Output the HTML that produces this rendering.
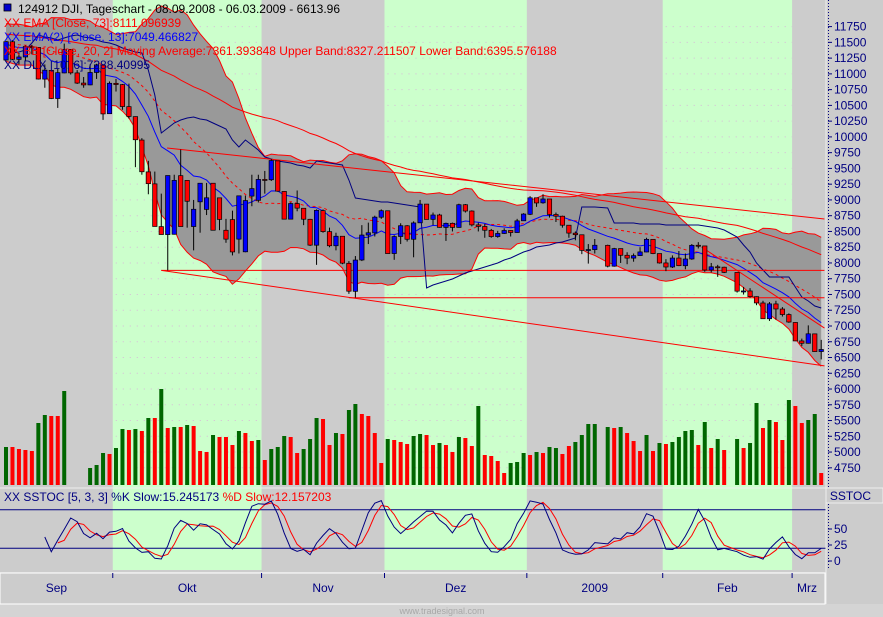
<!DOCTYPE html>
<html><head><meta charset="utf-8"><style>
body{margin:0;background:#d4d4d4;}
svg{display:block;font-family:"Liberation Sans",sans-serif;}
</style></head><body>
<svg id="c" width="883" height="617" viewBox="0 0 883 617" xmlns="http://www.w3.org/2000/svg">
<rect x="0" y="0" width="883" height="617" fill="#d4d4d4"/>
<rect x="0" y="0" width="826" height="572" fill="#cccccc"/>
<rect x="826" y="0" width="57" height="604" fill="#cccccc"/>
<rect x="0" y="573" width="825" height="31" fill="#cccccc" stroke="#ffffff" stroke-width="1"/>
<g id="bands"></g>
<g id="grid"></g>
<g id="overlay"></g>
<g id="candles"></g>
<g id="vol"></g>
<g id="stoch"></g>
<g id="axis"></g>
<line x1="0" y1="488" x2="826" y2="488" stroke="#eeeeee" stroke-width="1"/>
<line x1="826" y1="0" x2="826" y2="604" stroke="#eeeeee" stroke-width="1"/>
<line x1="828.5" y1="0" x2="828.5" y2="487" stroke="#000080" stroke-dasharray="1,2"/>
<line x1="828.5" y1="504" x2="828.5" y2="570" stroke="#000080" stroke-dasharray="1,2"/>
<rect x="826" y="488" width="57" height="15" fill="#cccccc" stroke="#eeeeee"/>
<text x="871" y="500" font-size="12" fill="#000080" text-anchor="end">SSTOC</text>
<text x="442" y="614" font-size="9" fill="#a8a8a8" text-anchor="middle">www.tradesignal.com</text>
<g font-size="12">
<rect x="4" y="4" width="7" height="7" fill="#0000cc" stroke="#000" stroke-width="0.8"/>
<text x="18" y="13" fill="#000">124912  DJI, Tageschart - 08.09.2008 - 06.03.2009 - 6613.96</text>
<text x="4" y="27" fill="#ff0000">XX EMA [Close, 73]:8111.096939</text>
<text x="4" y="41" fill="#0000ff">XX EMA(2) [Close, 13]:7049.466827</text>
<text x="4" y="55" fill="#ff0000">XX BB [Close, 20, 2] Moving Average:7361.393848 Upper Band:8327.211507 Lower Band:6395.576188</text>
<text x="4" y="69" fill="#000080">XX DLX [10, 6]:7288.40995</text>
</g>
<text x="4" y="501" font-size="12"><tspan fill="#000080">XX SSTOC [5, 3, 3] %K Slow:15.245173 </tspan><tspan fill="#ff0000">%D Slow:12.157203</tspan></text>
</svg>
<script>
const history = [11734,11782,11642,11532,11615,11659,11479,11348,11417,11430,11386,11628,11413,11412,11502,11715,11782,11544,11517,11188,11220];
const open = [11220,11510,11230,11268,11433,11420,10917,11056,10609,11015,11388,11015,10854,10825,11022,11139,10368,
10850,10830,10480,10322,9950,9445,9255,8577,8450,8455,9385,9310,8578,8970,8850,9265,9033,8519,8688,8378,8177,9061,8994,
9325,9320,9620,9135,8695,8943,8868,8693,8282,8830,8497,8273,8424,7995,7550,8047,8443,8477,8726,
8828,8150,8420,8590,8376,8637,8934,8692,8761,8564,8629,8564,8924,8824,8604,8579,8518,8419,8468,8515,8483,8669,
8772,9034,8954,9015,8769,8742,8599,8473,8447,8199,8212,null,8280,7949,8228,8122,8077,8117,8174,8375,8149,
8000,7936,8078,7956,8063,8281,8270,7888,7939,7933,null,7850,7552,7556,7465,7365,7115,7350,7269,7181,
7056,6763,6726,6875,6595];
const high = [11520,11535,11330,11450,11460,11420,11150,11060,11080,11480,11390,11060,10950,11150,11160,11140,10880,
10920,10840,10845,10325,9980,9620,9450,9100,8900,9400,9800,9310,9000,9150,9270,9265,9035,8700,8830,8700,9070,9400,9400,
9460,9650,9625,9140,8960,9150,8870,8700,8850,8850,8560,8480,8425,8030,8110,8600,8640,8750,8850,
8830,8440,8630,8600,8660,9000,8935,8800,8780,8640,8640,8940,8935,8835,8640,8620,8540,8510,8550,8520,8700,8790,
9060,9035,9090,9015,8800,8750,8600,8500,8450,8300,8380,null,8290,8240,8230,8170,8150,8250,8400,8380,8150,
8060,8120,8190,8150,8300,8330,8270,8000,7970,7940,null,7850,7620,7600,7470,7400,7380,7400,7300,7200,
7060,6800,7010,6880,6780];
const low = [11210,11220,11150,11200,11310,10910,10780,10600,10460,11010,10990,10840,10780,10820,10920,10270,10380,
10720,10430,10290,9520,9400,9090,8670,8530,7880,8450,9100,8560,8200,8480,8760,8950,8520,8320,8120,8150,8170,8900,8960,
9100,9300,9130,8690,8690,8820,8600,8270,7970,8480,8250,8200,7980,7510,7450,8030,8300,8420,8700,
8150,8050,8300,8340,8090,8640,8690,8600,8560,8350,8500,8560,8800,8580,8500,8400,8400,8400,8460,8420,8480,8670,
8760,8890,8940,8720,8650,8560,8400,8360,8140,7990,8150,null,7930,7940,8000,7980,8020,8110,8170,8140,7990,
7870,7920,7950,7900,8050,8230,7860,7850,7780,7840,null,7530,7500,7450,7330,7190,7080,7100,7150,7050,
6760,6680,6720,6590,6470];
const close = [11511,11231,11268,11434,11421,10918,11059,10609,11019,11388,11016,10854,10825,11022,11143,10365,10851,
10831,10482,10325,9955,9447,9258,8579,8451,9387,9310,8578,8979,8852,9265,9034,8519,8691,8378,8175,9065,8990,9180,9325,
9319,9625,9139,8695,8943,8870,8694,8283,8835,8497,8273,8424,7997,7552,8046,8443,8479,8727,8829,
8149,8419,8591,8376,8635,8934,8691,8761,8565,8629,8564,8924,8824,8604,8579,8519,8419,8468,8515,8483,8668,8776,
9034,8952,9015,8769,8742,8599,8474,8449,8200,8213,8281,null,7949,8228,8122,8077,8116,8175,8375,8149,8000,
7936,8078,7957,8063,8280,8270,7888,7939,7933,7850,null,7553,7556,7466,7366,7115,7351,7270,7182,7063,
6763,6726,6876,6594,6627];
const volume = [38,38,36,35,34,62,70,69,69,94,null,null,null,17,20,32,31,37,56,55,56,54,67,67,96,57,58,58,60,59,34,33,50,48,48,40,54,52,44,45,25,36,38,49,48,32,36,46,67,66,40,52,51,75,81,71,69,52,22,46,45,43,41,49,51,50,40,42,40,33,48,47,39,79,30,29,24,12,22,23,32,30,33,32,38,37,31,39,43,50,61,61,null,58,57,58,52,44,34,50,34,42,41,43,48,54,55,40,63,37,46,35,null,46,37,42,82,57,65,63,45,85,79,62,65,71,12];
const volDir = ("udddduuddu"+"...uuuduud"+"ududududud"+"dduddduddu"+"duuudduuud"+"duduuddddu"+"ddduuddudd"+"uddudddduu"+"ududuudduu"+"uu.ududddu"+"duduuuudud"+"ud.uduudud"+"dudduud").split('');
const dlx = [11299,11331,11347,11379,11490,11617,11585,11569,11537,11569,11601,11617,11585,11569,11537,11506,11490,11458,11410,11379,11347,11331,11061,10665,10062,10141,10221,10268,10300,10316,10284,10268,10221,10173,10125,9951,9840,9951,9872,9792,9681,9650,9618,9602,9586,9554,9538,9507,9618,9602,9586,9570,9554,9316,9030,9015,8999,8983,8967,8967,8951,8935,8919,8904,8888,7603,7651,7682,7714,7746,7793,7841,7872,7904,7936,7968,7999,8047,8079,8126,8174,8206,8253,8269,8285,8317,8333,8364,8396,8888,8888,8888,null,8872,8634,8634,8634,8634,8618,8618,8618,8618,8602,8602,8602,8602,8602,8602,8586,8570,8555,8523,null,8412,8285,8174,7999,7888,7777,7777,7777,7777,7618,7460,7396,7317,7285];
const months = ["Sep","Okt","Nov","Dez","2009","Feb","Mrz"];
const monthStart = [0,17,40,59,81,102,122];
const priceTicks = [11750,11500,11250,11000,10750,10500,10250,10000,9750,9500,9250,9000,8750,8500,8250,8000,7750,7500,7250,7000,6750,6500,6250,6000,5750,5500,5250,5000,4750];
const stochTicks = [50,25,0];
const stochLevels = [80,20];
const trendLines = [[24.9,9824,126.5,8698],[24,7882,126.5,6367],[24,7882,126.5,7882],[53,7449,126.5,7449],[107.5,8253,126.5,6967]];

const NS="http://www.w3.org/2000/svg";
const N=close.length;
const X=i=>6+i*6.47;
const Y=v=>26.6+(11750-v)*0.06303;
const VY=v=>485-v;
const SY=v=>561-0.64*v;
function mk(tag,attrs,parent){const e=document.createElementNS(NS,tag);for(const k in attrs)e.setAttribute(k,attrs[k]);document.getElementById(parent).appendChild(e);return e;}

const greens=[];
for(let m=0;m<months.length;m++){
  const x1=m===0?0:X(monthStart[m]-0.5);
  const x2=m+1<months.length?X(monthStart[m+1]-0.5):826;
  if(m%2===1){
    greens.push([x1,x2]);
    const r=mk('rect',{x:x1,y:0,width:x2-x1,height:570,fill:'#ccffcc'},'bands');
    
    
  }
  if(m>0){const t=mk('line',{x1:x1,y1:573,x2:x1,y2:578,stroke:'#000080'},'axis');
    
    }
  const lbl=mk('text',{x:(x1+Math.min(x2,822))/2,y:592,'font-size':12,fill:'#000080','text-anchor':'middle'},'axis');
  lbl.textContent=months[m];
  
  
}
priceTicks.forEach(v=>{
  const y=Y(v);
  greens.forEach(g=>{
    const gl=mk('line',{x1:g[0]+3,y1:y,x2:g[1],y2:y,stroke:'#d8b8d8','stroke-dasharray':'1,6'},'grid');
    
    
  });
  const tk=mk('line',{x1:828,y1:y,x2:832,y2:y,stroke:'#000080'},'axis');
  
  
  const t=mk('text',{x:834,y:y+4,'font-size':12,fill:'#000080'},'axis');
  t.textContent=v;
  
  
});
stochTicks.forEach(v=>{
  const y=SY(v);
  const tk=mk('line',{x1:828,y1:y,x2:832,y2:y,stroke:'#000080'},'axis');
  
  
  const t=mk('text',{x:834,y:y+4,'font-size':12,fill:'#000080'},'axis');
  t.textContent=v;
  
  
});

const idx=[];for(let i=0;i<N;i++)if(close[i]!==null)idx.push(i);
const all=history.concat(idx.map(i=>close[i]));
const H=history.length;
const up={},lo={},mid={},e13={},e73={};
let a13=all[0],a73=all[0];
for(let k=0;k<all.length;k++){
  a13=k===0?all[0]:a13+(2/14)*(all[k]-a13);
  a73=k===0?all[0]:a73+(2/74)*(all[k]-a73);
  if(k>=H){
    const s=all.slice(Math.max(0,k-19),k+1);
    const m=s.reduce((a,b)=>a+b,0)/s.length;
    const sd=Math.sqrt(s.reduce((a,b)=>a+(b-m)*(b-m),0)/s.length);
    const i=idx[k-H];
    mid[i]=m;up[i]=m+2*sd;lo[i]=m-2*sd;e13[i]=a13;e73[i]=a73;
  }
}
const pts=o=>idx.map(i=>X(i).toFixed(1)+','+Y(o[i]).toFixed(1)).join(' ');
const poly=mk('polygon',{points:pts(up)+' '+idx.slice().reverse().map(i=>X(i).toFixed(1)+','+Y(lo[i]).toFixed(1)).join(' '),fill:'#999999'},'overlay');


[[up,'#ff0000','','bollinger-upper'],[lo,'#ff0000','','bollinger-lower'],[mid,'#ff0000','3,3','bollinger-middle'],[e73,'#ff0000','','ema-73'],[e13,'#0000ff','','ema-13']].forEach(([o,c,d,n])=>{
  const p=mk('polyline',{points:pts(o),fill:'none',stroke:c,'stroke-width':1,'stroke-dasharray':d},'overlay');
  
  
});
const dp=[];for(let i=0;i<N;i++)if(dlx[i]!==null)dp.push(X(i).toFixed(1)+','+Y(dlx[i]).toFixed(1));
const dl=mk('polyline',{points:dp.join(' '),fill:'none',stroke:'#000080','stroke-width':1},'overlay');


trendLines.forEach(t=>{
  const l=mk('line',{x1:X(t[0]),y1:Y(t[1]),x2:X(t[2]),y2:Y(t[3]),stroke:'#ff0000','stroke-width':1},'overlay');
  
  
});
for(let i=0;i<N;i++){
  if(close[i]===null)continue;
  const o=open[i],c=close[i];
  const hi=Math.max(high[i],o,c),lw=Math.min(low[i],o,c);
  const x=X(i);
  const w=mk('line',{x1:x,y1:Y(hi),x2:x,y2:Y(lw),stroke:'#000','stroke-width':1},'candles');
  
  
  const top=Y(Math.max(o,c)),bot=Y(Math.min(o,c));
  const b=mk('rect',{x:x-2.2,y:top,width:4.4,height:Math.max(1,bot-top),fill:c>=o?'#0000ff':'#ff0000',stroke:'#000','stroke-width':0.7},'candles');
  
  
}
for(let i=0;i<N;i++){
  if(volume[i]===null)continue;
  const r=mk('rect',{x:X(i)-2,y:VY(volume[i]),width:4,height:volume[i],fill:volDir[i]==='u'?'#006600':'#ff0000'},'vol');
  
  
}
const fk={},sk={},sd={};
for(let k=4;k<idx.length;k++){
  let hh=-1e9,ll=1e9;
  for(let j=k-4;j<=k;j++){const i=idx[j];hh=Math.max(hh,high[i],close[i]);ll=Math.min(ll,low[i],close[i]);}
  fk[k]=(close[idx[k]]-ll)/(hh-ll)*100;
}
for(let k=6;k<idx.length;k++)sk[k]=(fk[k]+fk[k-1]+fk[k-2])/3;
for(let k=8;k<idx.length;k++)sd[k]=(sk[k]+sk[k-1]+sk[k-2])/3;
stochLevels.forEach(v=>{
  const l=mk('line',{x1:0,y1:SY(v),x2:826,y2:SY(v),stroke:'#000080','stroke-width':1},'stoch');
  
  
});
[[sd,'#ff0000','stoch-d-line'],[sk,'#000080','stoch-k-line']].forEach(([o,c,n])=>{
  const p=[];for(const k in o)p.push(X(idx[k]).toFixed(1)+','+SY(o[k]).toFixed(1));
  const pl=mk('polyline',{points:p.join(' '),fill:'none',stroke:c,'stroke-width':1},'stoch');
  
  
});
</script>
</body></html>
